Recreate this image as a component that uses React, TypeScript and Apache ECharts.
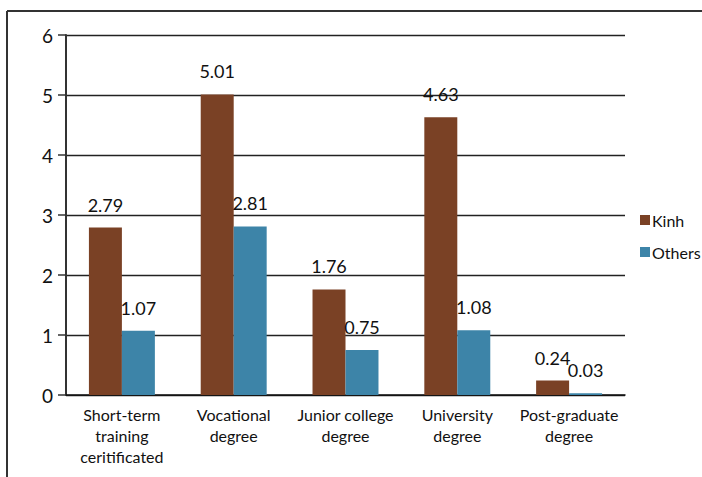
import React, { useEffect, useRef } from "react";
import * as echarts from "echarts";

const categories = [
  "Short-term\ntraining\nceritificated",
  "Vocational\ndegree",
  "Junior college\ndegree",
  "University\ndegree",
  "Post-graduate\ndegree",
];
const kinhValues = [2.79, 5.01, 1.76, 4.63, 0.24];
const othersValues = [1.07, 2.81, 0.75, 1.08, 0.03];
const seriesNames = ["Kinh", "Others"];
const yTicks = [0, 1, 2, 3, 4, 5, 6];

const FONT = "Lato, 'Open Sans', sans-serif";

export default function App() {
  const ref = useRef<HTMLDivElement>(null);
  useEffect(() => {
    if (!ref.current) return;
    const chart = echarts.init(ref.current, null, { renderer: "svg" });
    const labelStyle = {
      show: true,
      position: "top",
      distance: 14,
      fontSize: 18,
      color: "#111",
      fontFamily: FONT,
    };
    chart.setOption({
      animation: false,
      backgroundColor: "#ffffff",
      textStyle: { fontFamily: FONT },
      graphic: [
        {
          type: "line",
          shape: { x1: 7, y1: 11, x2: 702, y2: 11 },
          style: { stroke: "#333", lineWidth: 2 },
        },
        {
          type: "line",
          shape: { x1: 7, y1: 11, x2: 7, y2: 477 },
          style: { stroke: "#333", lineWidth: 2 },
        },
      ],
      grid: { left: 66, right: 77, top: 35, bottom: 82, containLabel: false },
      legend: {
        orient: "vertical",
        left: 635,
        top: 207,
        itemWidth: 10,
        itemHeight: 10,
        itemGap: 16,
        icon: "rect",
        textStyle: { fontSize: 16, color: "#111", fontFamily: FONT, padding: [0, 0, 0, -3] },
        data: seriesNames,
      },
      xAxis: {
        type: "category",
        data: categories,
        axisLine: { show: true, lineStyle: { color: "#111", width: 1.5 } },
        axisTick: { show: false },
        axisLabel: {
          interval: 0,
          fontSize: 16,
          lineHeight: 21,
          margin: 9,
          color: "#111",
          fontFamily: FONT,
        },
      },
      yAxis: {
        type: "value",
        min: yTicks[0],
        max: yTicks[yTicks.length - 1],
        interval: 1,
        axisLine: { show: true, lineStyle: { color: "#333", width: 2 } },
        axisTick: { show: true, length: 8, lineStyle: { color: "#333", width: 1.5 } },
        axisLabel: { fontSize: 19, color: "#111", margin: 13, fontFamily: FONT },
        splitLine: { show: true, lineStyle: { color: "#222", width: 1.4 } },
      },
      series: [
        {
          name: seriesNames[0],
          type: "bar",
          data: kinhValues,
          barGap: "0%",
          barCategoryGap: "41%",
          itemStyle: { color: "#7A4125" },
          label: labelStyle,
        },
        {
          name: seriesNames[1],
          type: "bar",
          data: othersValues,
          barGap: "0%",
          barCategoryGap: "41%",
          itemStyle: { color: "#3D84A8" },
          label: labelStyle,
        },
      ],
    });
    return () => chart.dispose();
  }, []);
  return <div ref={ref} style={{ width: 702, height: 477, position: "absolute", left: 0, top: 0 }} />;
}
